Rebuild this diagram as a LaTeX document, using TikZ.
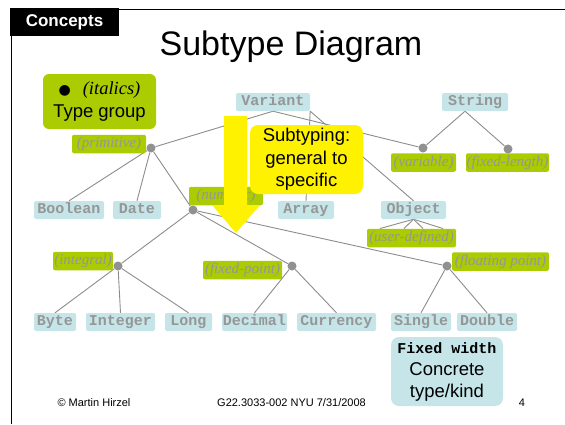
\documentclass[tikz,border=0pt]{standalone}
\usepackage{fontspec}
\setmainfont{Liberation Sans}
\setmonofont{Liberation Mono}
\newfontfamily\timesfont{Liberation Serif}
\newfontfamily\symbolfont{DejaVu Sans}
\usetikzlibrary{backgrounds}

\definecolor{tblue}{RGB}{197,229,232}
\definecolor{tgreen}{RGB}{170,204,0}
\definecolor{tgray}{RGB}{150,150,150}
\definecolor{linegray}{RGB}{140,140,140}
\definecolor{dotgray}{RGB}{145,145,145}

\tikzset{
  tbox/.style={fill=tblue, rounded corners=2pt, inner sep=0pt,
    minimum height=18pt, text height=10pt, text depth=3pt, text=tgray,
    font=\fontsize{15}{15}\selectfont\ttfamily\bfseries},
  gbox/.style={fill=tgreen, rounded corners=2pt, inner sep=0pt,
    minimum height=18.5pt, text height=10.5pt, text depth=3.5pt, text=tgray,
    font=\fontsize{15}{15}\selectfont\timesfont\itshape},
  gdot/.style={circle, fill=dotgray, inner sep=0pt, minimum size=9pt},
  link/.style={draw=linegray, line width=0.9pt},
  foot/.style={font=\fontsize{11}{11}\selectfont},
}

\begin{document}
\begin{tikzpicture}[x=1pt,y=-1pt]
\useasboundingbox (0,0) rectangle (565,424);

% slide frame and header
\draw[line width=1pt] (10,9) -- (565,9);
\draw[line width=1pt] (11,9) -- (11,424);
\node[fill=black, text=white, inner sep=0pt, minimum width=109pt, minimum height=28pt,
      font=\fontsize{17}{17}\selectfont\bfseries] (concepts) at (64.5,22) {Concepts};
\node[anchor=base, font=\fontsize{34}{34}\selectfont] (title) at (291,55) {Subtype Diagram};

% legend: type group
\node[fill=tgreen, rounded corners=6pt, inner sep=0pt, minimum width=113pt, minimum height=55pt,
      align=center, font=\fontsize{18.5}{23}\selectfont] (legendgroup) at (99.5,101.5)
  {{\symbolfont\fontsize{14}{14}\selectfont ●}\hspace{12pt}{\timesfont\itshape (italics)}\\Type group};

% concrete types
\node[tbox, minimum width=74pt] (variant) at (273,102) {Variant};
\node[tbox, minimum width=66pt] (string)  at (475,102) {String};
\node[tbox, minimum width=70pt] (boolean) at (69,210) {Boolean};
\node[tbox, minimum width=48pt] (date)    at (137,210) {Date};
\node[tbox, minimum width=56pt] (array)   at (306,210) {Array};
\node[tbox, minimum width=65pt] (object)  at (413.5,210) {Object};
\node[tbox, minimum width=42pt] (byte)    at (55,322) {Byte};
\node[tbox, minimum width=69pt] (integer) at (120.5,322) {Integer};
\node[tbox, minimum width=47pt] (long)    at (188.5,322) {Long};
\node[tbox, minimum width=65pt] (decimal) at (254.5,322) {Decimal};
\node[tbox, minimum width=79pt] (currency) at (336.5,322) {Currency};
\node[tbox, minimum width=60pt] (single)  at (421,322) {Single};
\node[tbox, minimum width=60pt] (double)  at (487,322) {Double};

% type groups
\node[gbox, minimum width=74pt] (primitive)   at (109,144) {(primitive)};
\node[gbox, minimum width=74pt] (numeric)     at (226,196) {(numeric)};
\node[gbox, minimum width=65pt] (variable)    at (423.5,162.5) {(variable)};
\node[gbox, minimum width=83pt] (fixedlength) at (507.5,162.5) {(fixed-length)};
\node[gbox, minimum width=89pt] (userdef)     at (411.5,238) {(user-defined)};
\node[gbox, minimum width=97pt] (floating)    at (500.5,261.5) {(floating point)};
\node[gbox, minimum width=60pt] (integral)    at (83,261) {(integral)};
\node[gbox, minimum width=79pt] (fixedpoint)  at (242.5,270) {(fixed-point)};

% group junction dots
\node[gdot] (dprim)  at (151,148) {};
\node[gdot] (dnum)   at (193,210) {};
\node[gdot] (dvar)   at (423,148) {};
\node[gdot] (dfixl)  at (508,149) {};
\node[gdot] (dint)   at (118,266) {};
\node[gdot] (dfixp)  at (292,266) {};
\node[gdot] (dfloat) at (447,266) {};

% subtype links
\begin{scope}[on background layer]
  \draw[link] (variant.south) -- (dprim);
  \draw[link] (variant.south) -- (dvar);
  \draw[link] (variant.south east) -- (array.north);
  \draw[link] (variant.south east) -- (object.north);
  \draw[link] ([xshift=-10pt]string.south) -- (dvar);
  \draw[link] ([xshift=-10pt]string.south) -- (dfixl);
  \draw[link] (dprim) -- (boolean.north);
  \draw[link] (dprim) -- (date.north);
  \draw[link] (dprim) -- (dnum);
  \draw[link] (dnum) -- (dint);
  \draw[link] (dnum) -- (dfixp);
  \draw[link] (dnum) -- (dfloat);
  \draw[link] (dint) -- (byte.north);
  \draw[link] (dint) -- (integer.north);
  \draw[link] (dint) -- (long.north);
  \draw[link] (dfixp) -- (decimal.north);
  \draw[link] (dfixp) -- (currency.north);
  \draw[link] (dfloat) -- (single.north);
  \draw[link] (dfloat) -- (double.north);
  \draw[link] (object.south) -- ([xshift=-31.5pt]userdef.north);
  \draw[link] (object.south) -- ([xshift=-7.5pt]userdef.north);
  \draw[link] (object.south) -- ([xshift=11.5pt]userdef.north);
  \draw[link] (object.south) -- ([xshift=31.5pt]userdef.north);
\end{scope}

% direction arrow and its callout
\fill[yellow] (224,116) -- (247,116) -- (247,205) -- (260,205) -- (236,233)
  -- (212,205) -- (224,205) -- cycle;
\node[fill=yellow, rounded corners=8pt, inner sep=0pt, minimum width=113pt, minimum height=69pt,
      align=center, font=\fontsize{18.5}{22.5}\selectfont] (callout) at (306.5,159.5)
  {Subtyping:\\general to\\specific};

% legend: concrete type
\node[fill=tblue, rounded corners=8pt, inner sep=0pt, minimum width=112pt, minimum height=69pt,
      align=center, font=\fontsize{18.5}{22}\selectfont] (legendtype) at (447,371.5)
  {{\ttfamily\bfseries\fontsize{15}{22}\selectfont Fixed width}\\Concrete\\type/kind};

% footer
\node[foot] (author) at (94,402.5) {© Martin Hirzel};
\node[foot] (course) at (291.5,402.5) {G22.3033-002 NYU 7/31/2008};
\node[foot] (page)   at (522,402.5) {4};
\end{tikzpicture}
\end{document}
